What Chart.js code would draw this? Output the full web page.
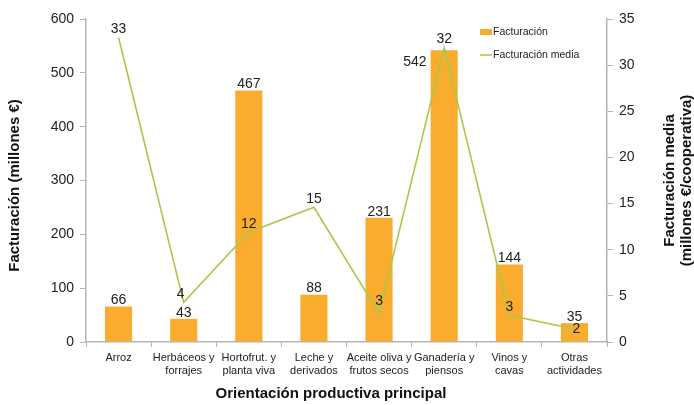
<!DOCTYPE html>
<html><head><meta charset="utf-8">
<script src="https://cdn.jsdelivr.net/npm/chart.js@4"></script>
<style>html,body{margin:0;padding:0;background:#fff}#wrap{width:694px;height:405px}</style>
</head><body><div id="wrap"><canvas id="c" width="694" height="405"></canvas></div>
<script>
const categories = [['Arroz'],['Herbáceos y','forrajes'],['Hortofrut. y','planta viva'],['Leche y','derivados'],['Aceite oliva y','frutos secos'],['Ganadería y','piensos'],['Vinos y','cavas'],['Otras','actividades']];
const facturacion = [66, 43, 467, 88, 231, 542, 144, 35];
const facturacionMedia = [33, 4.3, 11.9, 14.6, 3.1, 31.9, 2.9, 1.4];
const mediaLabels = ['33','4','12','15','3','32','3','2'];
const leftTicks = [0,100,200,300,400,500,600];
const rightTicks = [0,5,10,15,20,25,30,35];

const FONT = '"Liberation Sans", Arial, sans-serif';
const BAR = '#F9AC2E';
const LINE = '#A8C94C';
const AX = '#b5b5b5';

const labelsPlugin = {
  id: 'labels',
  afterDatasetsDraw(chart) {
    const ctx = chart.ctx;
    ctx.save();
    ctx.fillStyle = '#222';
    ctx.font = '14px ' + FONT;
    const bm = chart.getDatasetMeta(0);
    bm.data.forEach((el, i) => {
      const v = String(facturacion[i]);
      if (i === 5) {
        ctx.textAlign = 'right'; ctx.textBaseline = 'middle';
        ctx.fillText(v, el.x - el.width/2 - 4, el.y + 12);
      } else {
        ctx.textAlign = 'center'; ctx.textBaseline = 'bottom';
        ctx.fillText(v, el.x, el.y + 1);
      }
    });
    const lm = chart.getDatasetMeta(1);
    lm.data.forEach((el, i) => {
      let dy = -8, dx = 0;
      if (i === 7) { dy = 0; dx = 2; }
      if (i === 4) { dy = -12; }
      if (i === 1) { dx = -3; }
      ctx.textAlign = 'center'; ctx.textBaseline = 'middle';
      ctx.fillText(mediaLabels[i], el.x + dx, el.y + dy);
    });
    ctx.restore();
  },
  afterDraw(chart) {
    const ctx = chart.ctx, a = chart.chartArea;
    ctx.save();
    // legend
    ctx.font = '10.5px ' + FONT;
    ctx.textAlign = 'left'; ctx.textBaseline = 'middle';
    ctx.fillStyle = BAR;
    ctx.fillRect(480, 29, 12, 6);
    ctx.fillStyle = '#222';
    ctx.fillText('Facturación', 493, 32);
    ctx.strokeStyle = LINE; ctx.lineWidth = 1.5;
    ctx.beginPath(); ctx.moveTo(480, 55); ctx.lineTo(492, 55); ctx.stroke();
    ctx.fillText('Facturación media', 493, 55);
    // titles
    ctx.fillStyle = '#111';
    ctx.font = 'bold 15px ' + FONT;
    ctx.textAlign = 'center'; ctx.textBaseline = 'middle';
    const cy = (a.top + a.bottom) / 2;
    ctx.save(); ctx.translate(15, cy + 5); ctx.rotate(-Math.PI/2);
    ctx.fillText('Facturación (millones €)', 0, 0); ctx.restore();
    ctx.save(); ctx.translate(670, cy); ctx.rotate(-Math.PI/2);
    ctx.fillText('Facturación media', 0, 0);
    ctx.fillText('(millones €/cooperativa)', 0, 17); ctx.restore();
    ctx.fillText('Orientación productiva principal', 331, 394);
    ctx.restore();
  }
};

new Chart(document.getElementById('c'), {
  type: 'bar',
  data: {
    labels: categories,
    datasets: [
      { type: 'bar', label: 'Facturación', data: facturacion, backgroundColor: BAR, yAxisID: 'y', order: 1,
        barPercentage: 0.8, categoryPercentage: 0.52 },
      { type: 'line', label: 'Facturación media', data: facturacionMedia, borderColor: LINE, backgroundColor: LINE,
        borderWidth: 1.6, pointRadius: 0, tension: 0, yAxisID: 'y1', order: 0 }
    ]
  },
  options: {
    responsive: false, animation: false,
    layout: { padding: { top: 19, bottom: 0, left: 0, right: 0 } },
    plugins: { legend: { display: false }, tooltip: { enabled: false } },
    scales: {
      x: {
        grid: { display: true, drawOnChartArea: false, color: AX, tickLength: 5, offset: true },
        border: { color: AX, width: 1.5 },
        ticks: { color: '#222', font: { family: FONT, size: 11 }, padding: 4, maxRotation: 0, autoSkip: false },
        afterFit(s) { s.height = 63; }
      },
      y: {
        position: 'left', min: 0, max: 600,
        afterBuildTicks(s) { s.ticks = leftTicks.map(v => ({ value: v })); },
        grid: { display: true, drawOnChartArea: false, color: AX, tickLength: 6 },
        border: { color: AX, width: 1.5 },
        ticks: { color: '#222', font: { family: FONT, size: 14 }, padding: 6 },
        afterFit(s) { s.width = 86; }
      },
      y1: {
        position: 'right', min: 0, max: 35,
        afterBuildTicks(s) { s.ticks = rightTicks.map(v => ({ value: v })); },
        grid: { display: true, drawOnChartArea: false, color: AX, tickLength: 6 },
        border: { color: AX, width: 1.5 },
        ticks: { color: '#222', font: { family: FONT, size: 14 }, padding: 6 },
        afterFit(s) { s.width = 87; }
      }
    }
  },
  plugins: [labelsPlugin]
});
</script></body></html>
